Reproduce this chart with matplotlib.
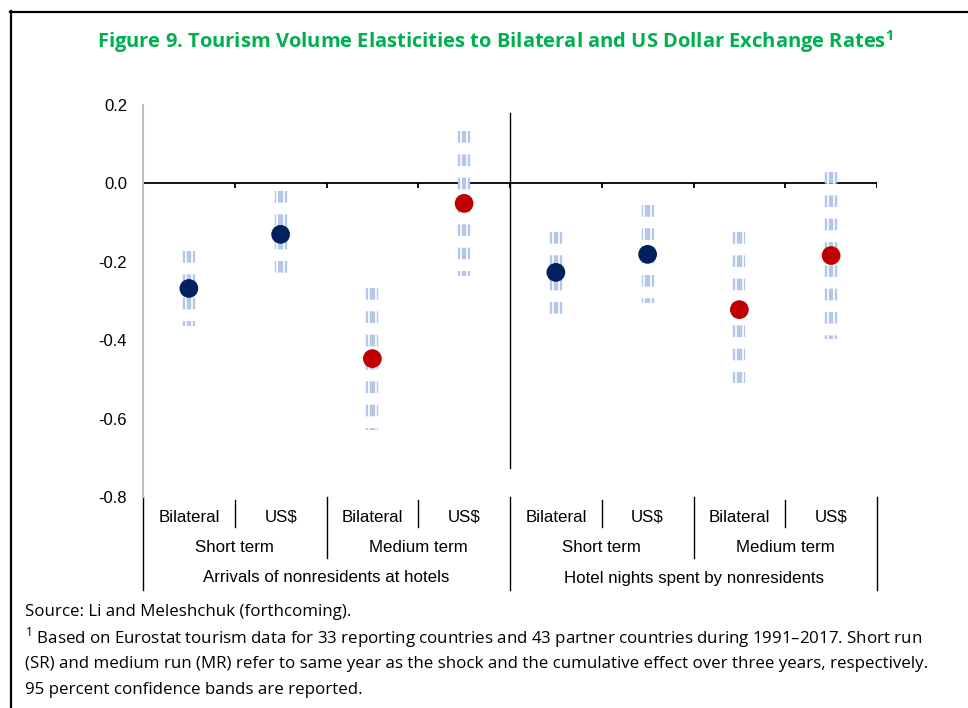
import matplotlib
matplotlib.use("Agg")
import matplotlib.pyplot as plt
import matplotlib.transforms as mtransforms
from matplotlib.lines import Line2D

plt.rcParams["lines.scale_dashes"] = False

# ---- data ----
categories = ["Bilateral", "US$", "Bilateral", "US$", "Bilateral", "US$", "Bilateral", "US$"]
terms = ["Short term", "Medium term", "Short term", "Medium term"]
groups = ["Arrivals of nonresidents at hotels", "Hotel nights spent by nonresidents"]
estimates = [-0.268, -0.130, -0.447, -0.051, -0.227, -0.181, -0.322, -0.184]
ci_low = [-0.364, -0.230, -0.630, -0.237, -0.332, -0.306, -0.508, -0.396]
ci_high = [-0.173, -0.020, -0.266, 0.133, -0.125, -0.056, -0.125, 0.028]
point_colors = ["#002060", "#002060", "#c00000", "#c00000", "#002060", "#002060", "#c00000", "#c00000"]
yticks = [0.2, 0.0, -0.2, -0.4, -0.6, -0.8]

W, H = 968, 708
fig = plt.figure(figsize=(W / 100, H / 100), dpi=100)

ax_l, ax_r, ax_t, ax_b = 143, 877, 105, 497
ax = fig.add_axes([ax_l / W, 1 - ax_b / H, (ax_r - ax_l) / W, (ax_b - ax_t) / H])
ax.set_xlim(0, 8)
ax.set_ylim(-0.8, 0.2)

for s in ["top", "right", "bottom"]:
    ax.spines[s].set_visible(False)
ax.spines["left"].set_color("#bfbfbf")
ax.spines["left"].set_linewidth(1.5)
ax.set_xticks([])
ax.set_yticks(yticks)
ax.set_yticklabels([f"{v:.1f}" for v in yticks], fontfamily="Liberation Sans", fontsize=12)
ax.tick_params(axis="y", length=0, pad=11.5)

# zero line with ticks
ax.axhline(0, color="black", lw=1.3, zorder=2)
for b in range(9):
    ax.plot([b, b], [0, -0.012], color="black", lw=1.3, zorder=2, solid_capstyle="butt")

# vertical separator
ax.plot([4, 4], [0.18, -0.726], color="black", lw=1.0, zorder=2)

x = [i + 0.5 for i in range(len(categories))]
ebc = "#b4c7e7"
for xi, lo, hi in zip(x, ci_low, ci_high):
    ax.plot([xi, xi], [hi, lo], color=ebc, lw=8.9, zorder=3,
            linestyle=(0, (8.4, 8.4)), dash_capstyle="butt")
    # white inner stripes
    off = 3.2 / 91.75
    for d in (-off, off):
        ax.plot([xi + d, xi + d], [hi + 0.01, lo - 0.01], color="white", lw=1.2, zorder=4)

ax.scatter(x, estimates, s=13.5 ** 2, c=point_colors, zorder=5, linewidths=0)

# ---- multi-level category labels ----
tr = mtransforms.blended_transform_factory(ax.transData, fig.transFigure)
def fy(p):
    return 1 - p / H

lab_font = dict(fontfamily="Liberation Sans", fontsize=12.2, ha="center", va="center",
                transform=tr)
for xi, c in zip(x, categories):
    ax.text(xi, fy(517), c, **lab_font)
for i, t in enumerate(terms):
    ax.text(2 * i + 1, fy(548), t, **lab_font)
for i, g in enumerate(groups):
    ax.text(4 * i + 2, fy(578), g, **lab_font)

for b in range(9):
    if b % 4 == 0:
        y0, y1 = 497, 590
    elif b % 2 == 0:
        y0, y1 = 497, 558
    else:
        y0, y1 = 500, 527
    ax.add_line(Line2D([b, b], [fy(y0), fy(y1)], transform=tr, color="black", lw=1.0,
                       clip_on=False))

# ---- title ----
fig.text(495 / W, fy(42), "Figure 9. Tourism Volume Elasticities to Bilateral and US Dollar Exchange Rates$^{\\mathregular{1}}$",
         color="#00b050", fontsize=14.5, fontweight="bold", fontfamily="Open Sans",
         ha="center", va="center")

# ---- footnotes ----
fn = dict(fontfamily="Open Sans", fontsize=12.2, ha="left", va="center", color="black")
fig.text(25 / W, fy(612), "Source: Li and Meleshchuk (forthcoming).", **fn)
fig.text(25 / W, fy(638), "$^{\\mathregular{1}}$ Based on Eurostat tourism data for 33 reporting countries and 43 partner countries during 1991\u20132017. Short run", **fn)
fig.text(25 / W, fy(664), "(SR) and medium run (MR) refer to same year as the shock and the cumulative effect over three years, respectively.", **fn)
fig.text(25 / W, fy(690), "95 percent confidence bands are reported.", **fn)

# ---- frame (top and left border) ----
fig.add_artist(Line2D([10 / W, 1], [fy(12), fy(12)], transform=fig.transFigure, color="black", lw=1.6))
fig.add_artist(Line2D([11 / W, 11 / W], [fy(11), 0], transform=fig.transFigure, color="black", lw=1.6))

fig.savefig("out.png", dpi=100)
